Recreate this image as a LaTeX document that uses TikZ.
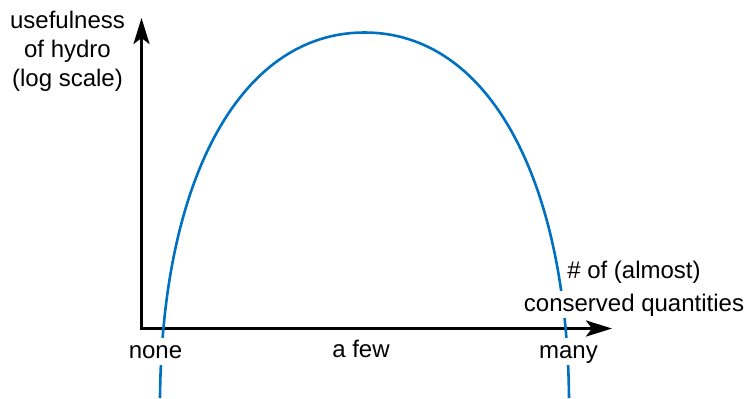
\documentclass[tikz,border=0pt]{standalone}
\usepackage{fontspec}
\setmainfont{Liberation Sans}
\usetikzlibrary{arrows.meta}
\definecolor{humpblue}{RGB}{0,112,192}
\begin{document}
\begin{tikzpicture}[x=0.5pt,y=-0.5pt,
  axis/.style={line width=1.5pt,
    {Stealth[length=13pt,width=8pt,inset=3pt]}-{Stealth[length=13pt,width=8pt,inset=3pt]}},
  hump/.style={humpblue,line width=1.3pt},
  tick label/.style={fill=white,inner sep=0pt,text height=10pt,text depth=3.5pt,
    font=\fontsize{12}{14.5}\selectfont,anchor=base},
  axis title/.style={inner sep=0pt,align=center,font=\fontsize{12}{14.5}\selectfont}]
\useasboundingbox (0,0) rectangle (750,398);
% axes
\coordinate (origin) at (141.5,328.5);
\coordinate (ytip) at (141.5,18);
\coordinate (xtip) at (612,328.5);
\draw[axis] (ytip) -- (origin) -- (xtip);
% the hump
\coordinate (leftfoot) at (160,398);
\coordinate (peak) at (364.5,32.5);
\coordinate (rightfoot) at (569,398);
\draw[hump] (leftfoot) .. controls (162,180) and (240,32.5) .. (peak)
  .. controls (489,32.5) and (567,180) .. (rightfoot);
% labels
\node[tick label] (none) at (155.5,358) {none};
\node[tick label] (afew) at (361,357) {a few};
\node[tick label] (many) at (568.5,358) {many};
\node[tick label] (xtitletop) at (634,278) {\# of (almost)};
\node[tick label] (xtitle) at (634,311) {conserved quantities};
\node[axis title,anchor=north] (ytitle) at (67.5,11) {usefulness\\of hydro\\(log scale)};
\end{tikzpicture}
\end{document}
